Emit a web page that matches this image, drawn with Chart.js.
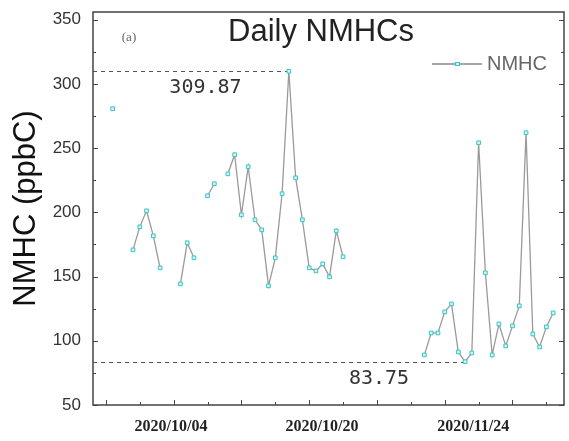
<!DOCTYPE html>
<html>
<head>
<meta charset="utf-8">
<script src="https://cdn.jsdelivr.net/npm/chart.js@4.4.1/dist/chart.umd.min.js"></script>
<style>
html, body { margin: 0; padding: 0; background: #fff; }
#wrap { width: 569px; height: 441px; }
</style>
</head>
<body>
<div id="wrap"><canvas id="myChart"></canvas></div>
<script>
// daily NMHC (ppbC), one value per day index, null = no data that day
const nmhc = [
  280.7, null, null, 170.8, 188.7, 201.2, 181.7, 156.8, null, null,
  144.3, 176.3, 164.6, null, 212.9, 222.3, null, 230.0, 244.9, 198.1,
  235.5, 194.2, 186.4, 142.8, 164.6, 214.5, 309.87, 226.9, 194.2, 156.8,
  154.4, 159.9, 149.8, 185.6, 165.4, null, null, null, null, null,
  null, null, null, null, null, null, 89.0, 106.1, 106.1, 122.5,
  128.7, 91.3, 83.75, 90.5, 254.2, 152.9, 89.0, 113.1, 96.0, 111.6,
  127.2, 262.0, 105.3, 95.2, 110.8, 121.7
];
const days = nmhc.map((v, i) => i);

// date labels on the x axis and the day index they sit at
const dateLabels = ['2020/10/04', '2020/10/20', '2020/11/24'];
const dateAt = [8.6, 30.9, 53.2];

// y axis tick values
const yTicks = [50, 100, 150, 200, 250, 300, 350];

// max / min marks: value, day of the point, where the number is written
const refValues = [309.87, 83.75];
const refDays = [26, 52];
const refTextAt = [13.7, 39.3];

const axisColor = '#444';

const framePlugin = {
  id: 'framePlugin',
  beforeDatasetsDraw(chart) {
    const {ctx, chartArea, scales: {x, y}} = chart;
    ctx.save();
    ctx.strokeStyle = '#555';
    ctx.lineWidth = 1;
    ctx.setLineDash([4, 4]);
    ctx.font = '20px "DejaVu Sans Mono"';
    ctx.fillStyle = '#333';
    ctx.textAlign = 'center';
    ctx.textBaseline = 'middle';
    refValues.forEach((v, i) => {
      const py = Math.round(y.getPixelForValue(v)) + 0.5;
      ctx.beginPath();
      ctx.moveTo(chartArea.left, py);
      ctx.lineTo(x.getPixelForValue(refDays[i]), py);
      ctx.stroke();
      ctx.fillText(v.toFixed(2), x.getPixelForValue(refTextAt[i]), py + 16);
    });
    ctx.restore();
  },
  afterDraw(chart) {
    const {ctx, chartArea: a, scales: {x, y}} = chart;
    ctx.save();
    ctx.strokeStyle = axisColor;
    ctx.lineWidth = 1.5;
    ctx.setLineDash([]);
    ctx.strokeRect(a.left, a.top, a.right - a.left, a.bottom - a.top);

    // inward ticks
    ctx.lineWidth = 1;
    ctx.beginPath();
    for (let v = 50; v <= 350; v += 25) {
      const py = Math.round(y.getPixelForValue(v)) + 0.5;
      const len = v % 50 === 0 ? 5 : 3;
      ctx.moveTo(a.left, py); ctx.lineTo(a.left + len, py);
      ctx.moveTo(a.right, py); ctx.lineTo(a.right - len, py);
    }
    for (let d = -1; d <= 64; d += 5) {
      const px = Math.round(x.getPixelForValue(d)) + 0.5;
      const len = (d + 1) % 10 === 0 ? 5 : 3;
      ctx.moveTo(px, a.bottom); ctx.lineTo(px, a.bottom - len);
    }
    ctx.stroke();

    // title and panel tag
    ctx.fillStyle = '#222';
    ctx.font = '31px "Liberation Sans"';
    ctx.textAlign = 'center';
    ctx.textBaseline = 'middle';
    ctx.fillText('Daily NMHCs', 321, 32);
    ctx.fillStyle = '#666';
    ctx.font = '13px "Liberation Serif"';
    ctx.fillText('(a)', 129, 38);

    // legend
    const ly = 64;
    ctx.strokeStyle = '#8a8a8a';
    ctx.lineWidth = 1.3;
    ctx.beginPath();
    ctx.moveTo(432, ly); ctx.lineTo(482, ly);
    ctx.stroke();
    ctx.fillStyle = '#d0f4f4';
    ctx.strokeStyle = '#3cc4c4';
    ctx.lineWidth = 1;
    ctx.fillRect(455.5, ly - 1.5, 4, 3);
    ctx.strokeRect(455.5, ly - 1.5, 4, 3);
    ctx.fillStyle = '#666';
    ctx.font = '20px "Liberation Sans"';
    ctx.textAlign = 'left';
    ctx.fillText('NMHC', 487, ly);
    ctx.restore();
  }
};

const ctx = document.getElementById('myChart');
new Chart(ctx, {
  type: 'line',
  data: {
    datasets: [{
      label: 'NMHC',
      data: days.map(d => ({x: d, y: nmhc[d]})),
      borderColor: '#9a9a9a',
      borderWidth: 1.3,
      pointStyle: 'rect',
      pointRadius: 2.6,
      pointBorderWidth: 1,
      pointBorderColor: '#3cc4c4',
      pointBackgroundColor: '#d0f4f4',
      spanGaps: false,
      tension: 0
    }]
  },
  options: {
    responsive: true,
    maintainAspectRatio: false,
    animation: false,
    layout: { padding: { left: 0, right: 2, top: 12, bottom: 0 } },
    plugins: {
      legend: { display: false },
      tooltip: { enabled: false }
    },
    scales: {
      x: {
        type: 'linear',
        min: -2.9,
        max: 66.6,
        grid: { display: false, drawTicks: false },
        border: { display: false },
        afterBuildTicks: s => { s.ticks = dateAt.map(v => ({value: v})); },
        afterFit: s => { s.height = 36; },
        ticks: {
          autoSkip: false,
          maxRotation: 0,
          padding: 12,
          color: '#222',
          font: { family: 'Liberation Serif', size: 16, weight: 'bold' },
          callback: (v, i) => dateLabels[i]
        }
      },
      y: {
        min: 50,
        max: 356,
        grid: { display: false, drawTicks: false },
        border: { display: false },
        afterBuildTicks: s => { s.ticks = yTicks.map(v => ({value: v})); },
        afterFit: s => { s.width = 93; s.paddingTop = 0; s.paddingBottom = 0; },
        ticks: {
          padding: 12,
          color: '#333',
          font: { family: 'Liberation Sans', size: 17 }
        },
        title: {
          display: true,
          text: 'NMHC (ppbC)',
          color: '#111',
          padding: { top: 8, bottom: 0 },
          font: { family: 'Liberation Sans', size: 31 }
        }
      }
    }
  },
  plugins: [framePlugin]
});
</script>
</body>
</html>
